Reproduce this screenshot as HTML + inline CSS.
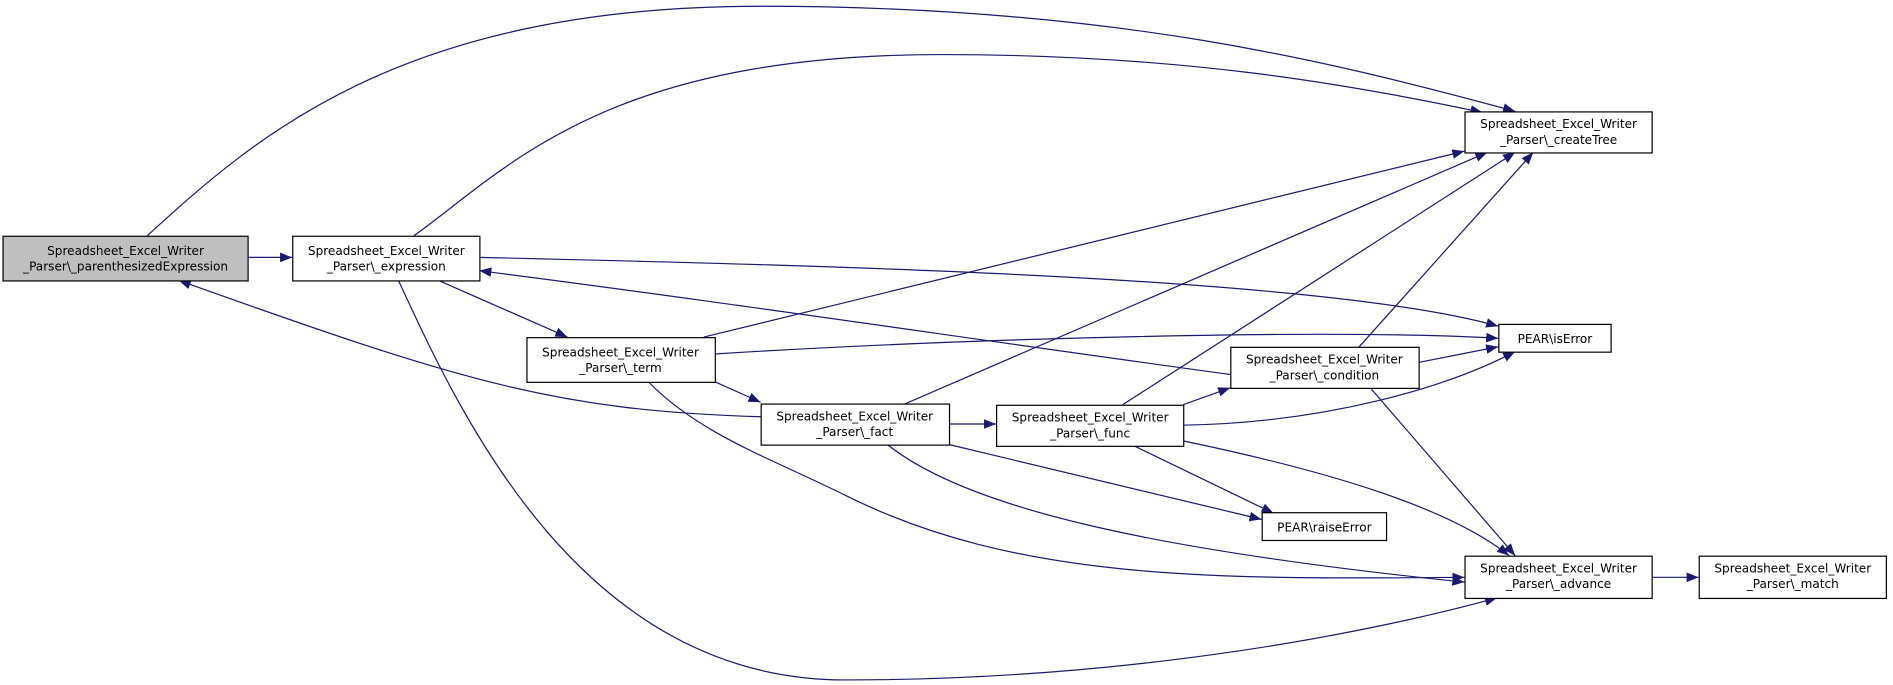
<!DOCTYPE html>
<html><head><meta charset="utf-8"><style>
html,body{margin:0;padding:0;background:#fff;}
svg{display:block;}
text{font-family:"DejaVu Sans","Liberation Sans",sans-serif;font-size:10px;fill:#000;}
</style></head><body>
<svg width="1893" height="685" viewBox="0 0 1568 567" xmlns="http://www.w3.org/2000/svg">
<defs>
<marker id="a" viewBox="0 0 10 8" refX="10" refY="4" markerWidth="10" markerHeight="8" markerUnits="userSpaceOnUse" orient="auto">
<path d="M0,0 L10,4 L0,8 z" fill="#191970"/>
</marker>
</defs>
<g fill="none" stroke="#191970" stroke-width="1" marker-end="url(#a)">
<path d="M205,213 L242,213"/>
<path d="M122,195 C210,115 330,5 630,5 C920,5 1100,50 1255,92"/>
<path d="M343,195 C420,140 500,45 780,45 C980,45 1120,70 1228,93"/>
<path d="M363,232 L470,279"/>
<path d="M397,213 C700,220 1100,230 1241,270"/>
<path d="M330,232 C380,340 480,563 700,563 C950,563 1150,520 1240,495"/>
<path d="M583,279 L1213,125"/>
<path d="M592,293 C800,280 1100,272 1241,280"/>
<path d="M592,316 L630,333"/>
<path d="M537,316 C580,360 640,380 700,410 C840,480 1000,480 1213,478"/>
<path d="M630,345 C460,340 380,315 148,232"/>
<path d="M748,335 L1232,126"/>
<path d="M786,351 L825,351"/>
<path d="M786,368 L1045,430"/>
<path d="M735,368 C800,420 950,455 1213,482"/>
<path d="M980,335 L1019,321"/>
<path d="M930,335 L1255,126"/>
<path d="M980,352 C1100,350 1200,320 1255,291"/>
<path d="M937,368 L1055,425"/>
<path d="M980,365 C1100,390 1200,420 1250,460"/>
<path d="M1125,288 L1270,126"/>
<path d="M1175,300 L1241,287"/>
<path d="M1019,310 C800,280 600,250 397,224"/>
<path d="M1135,321 L1255,460"/>
<path d="M1368,478 L1407,478"/>
</g>
<g stroke="#000" stroke-width="1">
<rect x="2.5" y="195.5" width="203" height="37" fill="#bfbfbf"/>
<rect x="242.5" y="195.5" width="155" height="37" fill="#fff"/>
<rect x="436.5" y="279.5" width="156" height="37" fill="#fff"/>
<rect x="630.5" y="334.5" width="156" height="34" fill="#fff"/>
<rect x="825.5" y="335.5" width="155" height="34" fill="#fff"/>
<rect x="1019.5" y="287.5" width="156" height="34" fill="#fff"/>
<rect x="1213.5" y="92.5" width="155" height="34" fill="#fff"/>
<rect x="1241.5" y="268.5" width="93" height="23" fill="#fff"/>
<rect x="1045.5" y="424.5" width="103" height="23" fill="#fff"/>
<rect x="1213.5" y="460.5" width="155" height="35" fill="#fff"/>
<rect x="1407.5" y="460.5" width="155" height="35" fill="#fff"/>
</g>
<g text-anchor="middle">
<text x="104" y="211">Spreadsheet_Excel_Writer</text><text x="104" y="224">_Parser\_parenthesizedExpression</text>
<text x="320" y="211">Spreadsheet_Excel_Writer</text><text x="320" y="224">_Parser\_expression</text>
<text x="514" y="295">Spreadsheet_Excel_Writer</text><text x="514" y="308">_Parser\_term</text>
<text x="708" y="348">Spreadsheet_Excel_Writer</text><text x="708" y="361">_Parser\_fact</text>
<text x="903" y="349">Spreadsheet_Excel_Writer</text><text x="903" y="362">_Parser\_func</text>
<text x="1097" y="301">Spreadsheet_Excel_Writer</text><text x="1097" y="314">_Parser\_condition</text>
<text x="1291" y="106">Spreadsheet_Excel_Writer</text><text x="1291" y="119">_Parser\_createTree</text>
<text x="1288" y="284">PEAR\isError</text>
<text x="1097" y="440">PEAR\raiseError</text>
<text x="1291" y="474">Spreadsheet_Excel_Writer</text><text x="1291" y="487">_Parser\_advance</text>
<text x="1485" y="474">Spreadsheet_Excel_Writer</text><text x="1485" y="487">_Parser\_match</text>
</g>
</svg>
</body></html>
